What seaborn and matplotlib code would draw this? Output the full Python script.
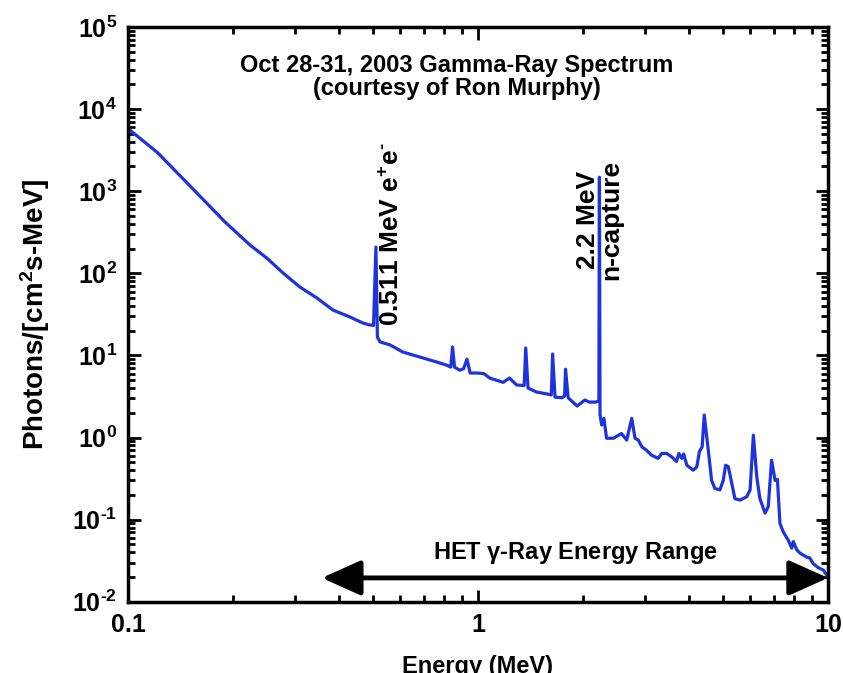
import numpy as np
import pandas as pd
import matplotlib
matplotlib.use("Agg")
import matplotlib.pyplot as plt
from matplotlib.ticker import LogLocator, NullFormatter, FuncFormatter
import seaborn as sns

sns.set_theme(style="ticks")
plt.rcParams["font.family"] = ["Liberation Sans", "DejaVu Sans"]
plt.rcParams["mathtext.fontset"] = "custom"
plt.rcParams["mathtext.rm"] = "Liberation Sans:bold"
plt.rcParams["mathtext.it"] = "Liberation Sans:bold"
plt.rcParams["mathtext.bf"] = "Liberation Sans:bold"
plt.rcParams["axes.unicode_minus"] = False
plt.rcParams["text.color"] = "black"
plt.rcParams["axes.labelcolor"] = "black"

# spectrum (energy in MeV, photons/[cm^2 s MeV])
energy = [
    0.100, 0.1218, 0.1524, 0.1893, 0.2232, 0.2495, 0.2773, 0.310, 0.3467, 0.385,
    0.4306, 0.469, 0.490, 0.503, 0.511, 0.516, 0.525, 0.561, 0.610, 0.652,
    0.697, 0.763, 0.814, 0.836, 0.846, 0.857, 0.887, 0.910, 0.930, 0.950,
    1.000, 1.040, 1.080, 1.180, 1.230, 1.290, 1.355, 1.369, 1.390, 1.470,
    1.570, 1.620, 1.634, 1.660, 1.740, 1.768, 1.779, 1.810, 1.920, 2.020,
    2.080, 2.170, 2.215, 2.223, 2.232, 2.256, 2.290, 2.330, 2.440, 2.570,
    2.660, 2.750, 2.810, 2.870, 2.940, 3.030, 3.130, 3.270, 3.350, 3.460,
    3.580, 3.690, 3.750, 3.820, 3.870, 3.950, 4.120, 4.220, 4.290, 4.370,
    4.430, 4.550, 4.650, 4.750, 4.910, 5.020, 5.100, 5.190, 5.310, 5.420,
    5.610, 5.860, 5.990, 6.120, 6.260, 6.390, 6.610, 6.750, 6.900, 7.060,
    7.170, 7.290, 7.450, 7.700, 7.880, 7.960, 8.140, 8.320, 8.690, 8.880,
    9.080, 9.380, 9.700, 10.00,
]
flux = [
    5800, 2920, 1094, 422, 221, 153, 101, 68.0, 50.0, 35.7,
    29.4, 24.8, 23.5, 23.2, 209, 16.7, 14.6, 13.4, 11.0, 10.1,
    9.3, 8.3, 7.6, 7.2, 12.7, 7.2, 6.6, 6.9, 9.0, 6.1,
    6.1, 6.0, 5.3, 4.7, 5.3, 4.36, 4.3, 12.3, 4.0, 3.58,
    3.4, 3.3, 10.4, 3.1, 3.05, 3.2, 6.8, 3.05, 2.42, 2.86,
    2.7, 2.7, 2.8, 1480, 1.9, 1.42, 1.71, 0.98, 0.98, 1.12,
    0.93, 1.71, 0.98, 0.93, 0.77, 0.70, 0.61, 0.557, 0.64, 0.64,
    0.58, 0.51, 0.64, 0.557, 0.63, 0.46, 0.40, 0.44, 0.67, 0.77,
    1.88, 0.70, 0.30, 0.24, 0.23, 0.30, 0.46, 0.44, 0.277, 0.18,
    0.173, 0.19, 0.23, 1.07, 0.33, 0.18, 0.12, 0.144, 0.53, 0.30,
    0.31, 0.090, 0.071, 0.056, 0.045, 0.054, 0.043, 0.039, 0.035, 0.034,
    0.029, 0.026, 0.0243, 0.020,
]
spectrum = pd.DataFrame({"energy": energy, "flux": flux})

# HET instrument energy range (MeV)
het_range = [0.358, 10.0]
het_level = 0.0195

line_color = "#1f33dc"


def pow10_label(v, _):
    return f"10$^{{\\text{{{int(round(np.log10(v)))}}}}}$"


fig = plt.figure(figsize=(8.43, 6.73), dpi=100)
ax = fig.add_axes([0.1518, 0.1059, 0.8304, 0.854])

sns.lineplot(data=spectrum, x="energy", y="flux", color=line_color,
             linewidth=2.3, estimator=None, sort=False, ax=ax)

ax.set_xscale("log")
ax.set_yscale("log")
ax.set_xlim(0.1, 10)
ax.set_ylim(1e-2, 1e5)

ax.set_xticks([0.1, 1, 10])
ax.xaxis.set_major_formatter(FuncFormatter(lambda v, _: f"{v:g}"))
ax.xaxis.set_minor_locator(LogLocator(base=10, subs=np.arange(2, 10), numticks=20))
ax.xaxis.set_minor_formatter(NullFormatter())
ax.yaxis.set_major_locator(LogLocator(base=10, numticks=20))
ax.yaxis.set_major_formatter(FuncFormatter(pow10_label))
ax.yaxis.set_minor_locator(LogLocator(base=10, subs=np.arange(2, 10), numticks=20))
ax.yaxis.set_minor_formatter(NullFormatter())

ax.tick_params(which="both", direction="in", top=True, right=True,
               width=2, colors="black", labelsize=18)
ax.tick_params(which="major", length=9, pad=8)
ax.tick_params(which="minor", length=5)
for lab in ax.get_xticklabels() + ax.get_yticklabels():
    lab.set_fontweight("bold")
for sp in ax.spines.values():
    sp.set_linewidth(2.5)
    sp.set_color("black")

ax.set_xlabel("Energy (MeV)", fontsize=17, fontweight="bold", labelpad=13)
ax.set_ylabel("Photons/[cm$^2$s-MeV]", fontsize=20, fontweight="bold", labelpad=14)

ax.text(0.47, 0.913, "Oct 28-31, 2003 Gamma-Ray Spectrum\n(courtesy of Ron Murphy)",
        transform=ax.transAxes, ha="center", va="center", fontsize=17,
        fontweight="bold", linespacing=0.95)

ax.text(0.567, 300, "0.511 MeV e$^{+}$e$^{\\text{-}}$", rotation=90, ha="center",
        va="center", fontsize=19, fontweight="bold")
ax.text(2.223, 446, "2.2 MeV\nn-capture", rotation=90, ha="center",
        va="center", fontsize=19, fontweight="bold", linespacing=0.95)

ax.annotate("", xy=(het_range[1], het_level), xytext=(het_range[0], het_level),
            arrowprops=dict(arrowstyle="<|-|>,head_length=2.0,head_width=0.9",
                            color="black", lw=3.5, shrinkA=0, shrinkB=0))
ax.text(np.sqrt(het_range[0] * het_range[1]), 0.039, "HET $\\gamma$-Ray Energy Range",
        ha="center", va="center", fontsize=17, fontweight="bold")

fig.savefig("out.png", dpi=100)
